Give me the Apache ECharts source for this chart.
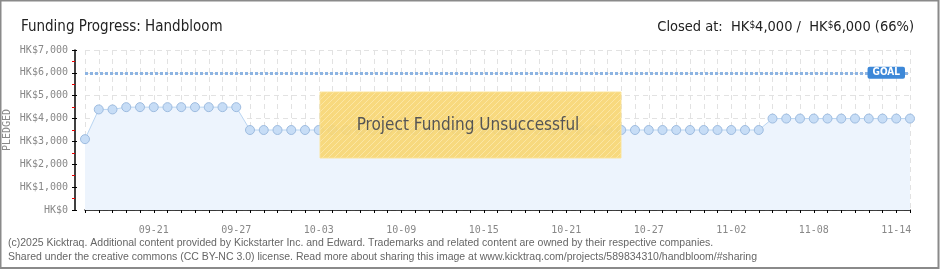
<!DOCTYPE html>
<html>
<head>
<meta charset="utf-8">
<script src="https://cdn.jsdelivr.net/npm/echarts@6/dist/echarts.min.js"></script>
<style>
html,body{margin:0;padding:0;background:#fff;}
#chart{width:940px;height:270px;}
</style>
</head>
<body>
<div id="chart"></div>
<script>
// ---- data ----
const dates = [
  '09-16','09-17','09-18','09-19','09-20','09-21','09-22','09-23','09-24','09-25','09-26','09-27','09-28','09-29','09-30',
  '10-01','10-02','10-03','10-04','10-05','10-06','10-07','10-08','10-09','10-10','10-11','10-12','10-13','10-14','10-15',
  '10-16','10-17','10-18','10-19','10-20','10-21','10-22','10-23','10-24','10-25','10-26','10-27','10-28','10-29','10-30','10-31',
  '11-01','11-02','11-03','11-04','11-05','11-06','11-07','11-08','11-09','11-10','11-11','11-12','11-13','11-14','11-15'
];
const pledged = [
  3100,
  4400, 4400,
  4500, 4500, 4500, 4500, 4500, 4500, 4500, 4500, 4500,
  3500, 3500, 3500, 3500, 3500, 3500, 3500, 3500, 3500, 3500,
  3500, 3500, 3500, 3500, 3500, 3500, 3500, 3500, 3500, 3500,
  3500, 3500, 3500, 3500, 3500, 3500, 3500, 3500, 3500, 3500,
  3500, 3500, 3500, 3500, 3500, 3500, 3500, 3500,
  4000, 4000, 4000, 4000, 4000, 4000, 4000, 4000, 4000, 4000, 4000
];
const goal = 6000;
const yMin = 0, yMax = 7000, yStep = 1000;
const titleText = 'Funding Progress: Handbloom';
const closedAt = '4,000', goalText = '6,000', pct = '66%';
const overlayText = 'Project Funding Unsuccessful';
const footer1 = '(c)2025 Kicktraq. Additional content provided by Kickstarter Inc. and Edward. Trademarks and related content are owned by their respective companies.';
const footer2 = 'Shared under the creative commons (CC BY-NC 3.0) license. Read more about sharing this image at www.kicktraq.com/projects/589834310/handbloom/#sharing';

// ---- styles ----
const AX = "'DejaVu Sans Mono', monospace";
const TF = "'Liberation Sans Narrow', 'DejaVu Sans Condensed', sans-serif";

const pat = document.createElement('canvas');
pat.width = 6; pat.height = 6;
(function(){
  const c = pat.getContext('2d');
  c.fillStyle = '#f8d673'; c.fillRect(0,0,6,6);
  c.strokeStyle = 'rgba(255,240,190,0.55)'; c.lineWidth = 1;
  c.beginPath(); c.moveTo(-1,7); c.lineTo(7,-1); c.stroke();
})();

const chart = echarts.init(document.getElementById('chart'), null, {renderer:'canvas'});
chart.setOption({
  animation: false,
  backgroundColor: '#fff',
  title: [
    { text: titleText, left: 16, top: 15,
      textStyle: { fontFamily: TF, fontSize: 15, fontWeight: 'normal', color: '#222' } },
    { text: '{a|Closed at:  HK}{s|$}{a|' + closedAt + ' /  HK}{s|$}{a|' + goalText + ' (' + pct + ')}',
      right: 21, top: 15,
      textStyle: { fontWeight: 'normal', rich: {
        a: { fontFamily: TF, fontSize: 14.5, fontWeight: 'normal', color: '#222' },
        s: { fontFamily: TF, fontSize: 10, fontWeight: 'normal', color: '#222', verticalAlign: 'top', padding: [0,0,5,0] }
      } } }
  ],
  grid: { left: 85, right: 30, top: 50, bottom: 60, containLabel: false, outerBoundsMode: 'none' },
  xAxis: {
    type: 'category', data: dates, boundaryGap: false, offset: 9,
    axisLine: { lineStyle: { color: '#000', width: 1.5 } },
    axisTick: { show: true, interval: 0, length: 3, lineStyle: { color: '#000' } },
    axisLabel: { interval: function(i){ return (i - 5) % 6 === 0; }, margin: 6,
      fontFamily: AX, fontSize: 10, color: '#888' },
    splitLine: { show: true, interval: 0, lineStyle: { color: '#e2e2e2', type: [5,4] } }
  },
  yAxis: [
    { type: 'value', min: yMin, max: yMax, interval: yStep, offset: 10,
      name: 'PLEDGED', nameLocation: 'middle', nameGap: 63, nameRotate: 90, nameMoveOverlap: false,
      nameTextStyle: { fontFamily: AX, fontSize: 10, color: '#888' },
      axisLine: { show: true, lineStyle: { color: '#000', width: 1.5 } },
      axisTick: { show: true, length: 3, lineStyle: { color: '#000' } },
      minorTick: { show: true, splitNumber: 2, length: 3, lineStyle: { color: '#e00' } },
      axisLabel: { margin: 7, fontFamily: AX, fontSize: 10, color: '#888',
        formatter: function(v){ return 'HK$' + v.toLocaleString('en-US'); } },
      splitLine: { show: true, lineStyle: { color: '#e2e2e2', type: [5,4] } }
    },
    { type: 'value', min: yMin, max: yMax, interval: yStep, offset: 10, position: 'left',
      axisLine: { show: false },
      axisTick: { show: true, inside: true, length: 2, lineStyle: { color: '#000' } },
      axisLabel: { show: false }, splitLine: { show: false }
    }
  ],
  series: [{
    type: 'line', data: pledged, yAxisIndex: 0,
    symbol: 'circle', symbolSize: 9, showSymbol: true, showAllSymbol: true,
    lineStyle: { color: '#b9d5f2', width: 1 },
    itemStyle: { color: '#c7ddf6', borderColor: '#9ebce0', borderWidth: 1 },
    areaStyle: { color: '#edf4fd', opacity: 1 },
    markLine: {
      silent: true, symbol: ['none','none'],
      lineStyle: { color: '#8db4e2', width: 3, type: [3,2] },
      label: { show: true, formatter: 'GOAL', position: 'insideEnd', distance: 5,
        backgroundColor: '#3d88d8', color: '#fff', fontFamily: TF, fontWeight: 'bold',
        fontSize: 10, padding: [1,5,1,5], borderRadius: 2 },
      data: [{ yAxis: goal }]
    }
  }],
  graphic: [
    { type: 'rect', shape: { x: 320, y: 92, width: 301, height: 66 }, z: 100,
      style: { fill: { image: pat, repeat: 'repeat' }, stroke: '#fbe49a', lineWidth: 1, opacity: 0.92 } },
    { type: 'text', x: 468, y: 126, z: 101,
      style: { text: overlayText, fontFamily: TF, fontSize: 17, fill: '#555', align: 'center', verticalAlign: 'middle',
        textShadowColor: '#fff', textShadowOffsetX: 1, textShadowOffsetY: 1, textShadowBlur: 0 } },
    { type: 'text', x: 8, y: 243, z: 100,
      style: { text: footer1, fontFamily: "'Liberation Sans', sans-serif", fontSize: 10.5, fill: '#666', verticalAlign: 'middle' } },
    { type: 'text', x: 8, y: 257, z: 100,
      style: { text: footer2, fontFamily: "'Liberation Sans', sans-serif", fontSize: 10.5, fill: '#666', verticalAlign: 'middle' } },
    { type: 'rect', shape: { x: 0.5, y: 0.5, width: 938, height: 267.5 }, z: 100,
      style: { fill: 'none', stroke: '#8a8a8a', lineWidth: 2 } }
  ]
});
</script>
</body>
</html>
